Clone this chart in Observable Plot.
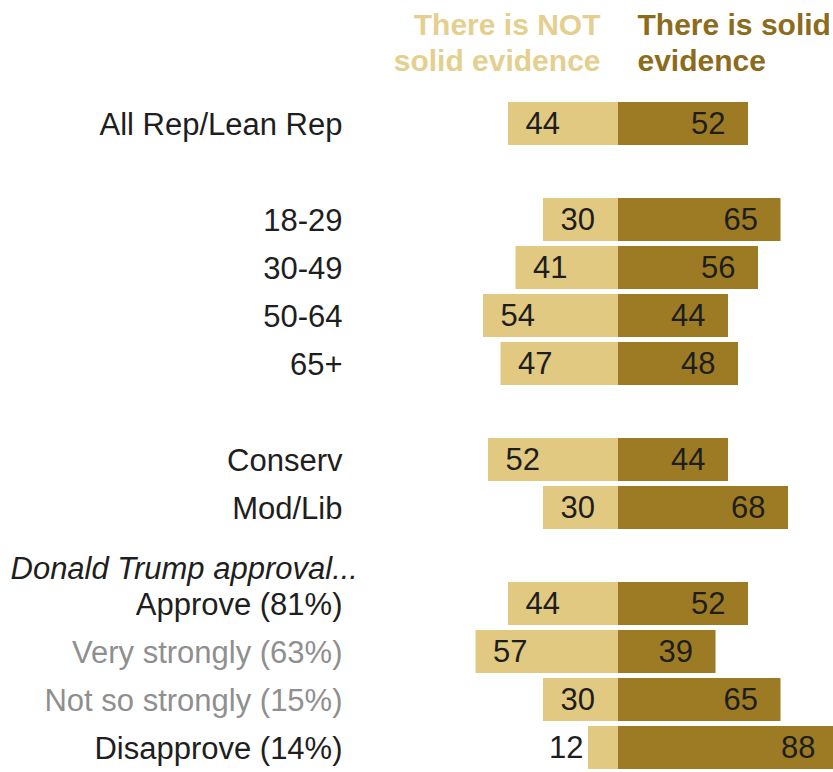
<!DOCTYPE html>
<html>
<head>
<meta charset="utf-8">
<script src="https://cdn.jsdelivr.net/npm/d3@7"></script>
<script src="https://cdn.jsdelivr.net/npm/@observablehq/plot@0.6"></script>
<style>
  html, body { margin: 0; padding: 0; background: white; overflow: hidden; }
  #chart { width: 833px; height: 772px; overflow: hidden; }
  #chart svg { display: block; max-width: none; }
</style>
</head>
<body>
<div id="chart"></div>
<script>
// ---- data ----
const categories = ["All Rep/Lean Rep", "18-29", "30-49", "50-64", "65+", "Conserv", "Mod/Lib",
  "Approve (81%)", "Very strongly (63%)", "Not so strongly (15%)", "Disapprove (14%)"];
const notSolid = [44, 30, 41, 54, 47, 52, 30, 44, 57, 30, 12];
const solid    = [52, 65, 56, 44, 48, 44, 68, 52, 39, 65, 88];
const grayCategories = ["Very strongly (63%)", "Not so strongly (15%)"];
const groupHeader = "Donald Trump approval...";
const headerNot = "There is NOT\nsolid evidence";
const headerSolid = "There is solid\nevidence";
// row order with blank spacer slots
const slots = ["All Rep/Lean Rep", "gap1", "18-29", "30-49", "50-64", "65+", "gap2",
  "Conserv", "Mod/Lib", groupHeader, "Approve (81%)", "Very strongly (63%)",
  "Not so strongly (15%)", "Disapprove (14%)"];

const rows = categories.map((c, i) => ({label: c, not: notSolid[i], solid: solid[i]}));

const LIGHT = "#E1C981";
const DARK = "#9D7B24";
const LIGHT_TEXT = "#E5CF8E";
const DARK_TEXT = "#8C6C1C";
const marginLeft = 348;

const chart = Plot.plot({
  width: 833,
  height: 779,
  marginLeft,
  marginRight: 0,
  marginTop: 93,
  marginBottom: 0,
  x: {domain: [-108, 86], axis: null},
  y: {domain: slots, axis: null, padding: 0.1},
  style: {fontFamily: "'Liberation Sans', Arial, sans-serif", fontSize: "31px", background: "white", overflow: "hidden"},
  marks: [
    Plot.barX(rows, {y: "label", x1: d => -d.not, x2: 0, fill: LIGHT}),
    Plot.barX(rows, {y: "label", x1: 0, x2: d => d.solid, fill: DARK}),
    // value labels
    Plot.text(rows.filter(d => d.not >= 20), {y: "label", x: d => -d.not, text: d => String(d.not),
      textAnchor: "start", dx: 17, fill: "#1e1e1e", fontSize: 31}),
    Plot.text(rows.filter(d => d.not < 20), {y: "label", x: d => -d.not, text: d => String(d.not),
      textAnchor: "end", dx: -5, fill: "#1e1e1e", fontSize: 31}),
    Plot.text(rows, {y: "label", x: d => d.solid, text: d => String(d.solid),
      textAnchor: "end", dx: -23, fill: "#1e1e1e", fontSize: 31}),
    // row labels
    Plot.text(rows.filter(d => !grayCategories.includes(d.label)), {y: "label", text: "label",
      frameAnchor: "left", textAnchor: "end", dx: -6, dy: 1, fill: "#1e1e1e", fontSize: 31}),
    Plot.text(rows.filter(d => grayCategories.includes(d.label)), {y: "label", text: "label",
      frameAnchor: "left", textAnchor: "end", dx: -6, dy: 1, fill: "#8f8f8f", fontSize: 31}),
    // group header
    Plot.text([groupHeader], {y: d => d, text: d => d, frameAnchor: "left", textAnchor: "start",
      dx: 10 - marginLeft, dy: 13, fontStyle: "italic", fill: "#1e1e1e", fontSize: 31}),
    // column headers
    Plot.text([headerNot], {x: 0, text: d => d, frameAnchor: "top", textAnchor: "end", lineAnchor: "top",
      dx: -18, dy: -84, lineHeight: 1.2, fontWeight: "bold", fontSize: 30, fill: LIGHT_TEXT}),
    Plot.text([headerSolid], {x: 0, text: d => d, frameAnchor: "top", textAnchor: "start", lineAnchor: "top",
      dx: 19, dy: -84, lineHeight: 1.2, fontWeight: "bold", fontSize: 30, fill: DARK_TEXT})
  ]
});
document.getElementById("chart").append(chart);
</script>
</body>
</html>
